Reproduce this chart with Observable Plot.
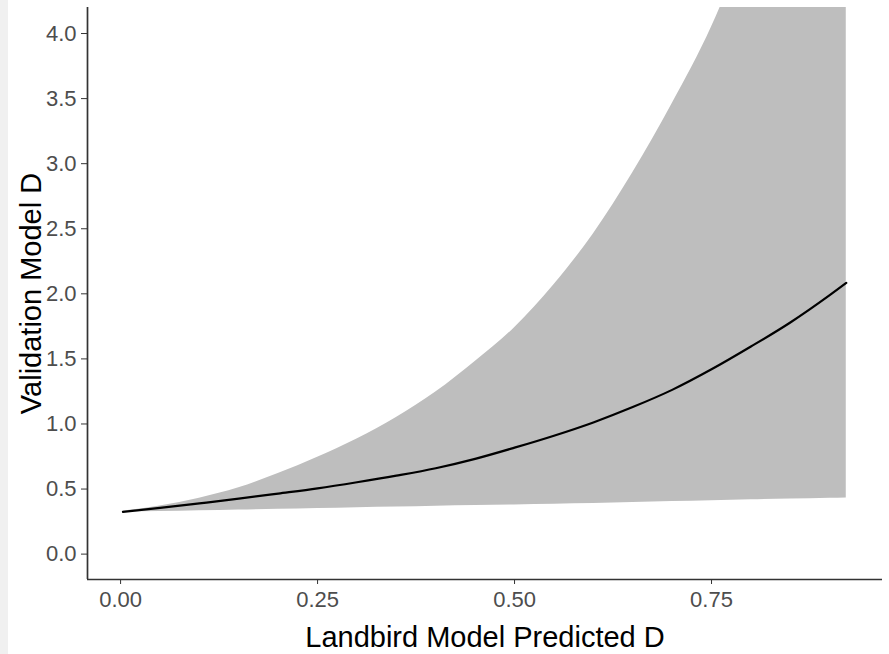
<!DOCTYPE html>
<html>
<head>
<meta charset="utf-8">
<script src="https://cdn.jsdelivr.net/npm/d3@7"></script>
<script src="https://cdn.jsdelivr.net/npm/@observablehq/plot@0.6"></script>
<style>
  html, body { margin: 0; padding: 0; background: #fff; }
  #strip { position: absolute; left: 0; top: 0; width: 8px; height: 654px; background: #f0f0f0; }
  #chart { position: absolute; left: 0; top: 0; }
</style>
</head>
<body>
<div id="strip"></div>
<div id="chart"></div>
<script>
const xs    = [0.003, 0.05, 0.1, 0.15, 0.2, 0.25, 0.3, 0.35, 0.4, 0.45, 0.5, 0.55, 0.6, 0.65, 0.7, 0.75, 0.8, 0.85, 0.9, 0.921];
const fit   = [0.325, 0.355, 0.39, 0.426, 0.465, 0.505, 0.552, 0.603, 0.66, 0.732, 0.818, 0.91, 1.012, 1.13, 1.262, 1.42, 1.595, 1.78, 1.99, 2.084];
const lower = [0.322, 0.327, 0.333, 0.339, 0.345, 0.351, 0.357, 0.362, 0.368, 0.373, 0.378, 0.383, 0.388, 0.396, 0.404, 0.411, 0.418, 0.424, 0.43, 0.432];
const upper = [0.33, 0.37, 0.43, 0.51, 0.62, 0.745, 0.885, 1.05, 1.245, 1.48, 1.74, 2.07, 2.46, 2.93, 3.46, 4.05, 4.8, 5.7, 6.7, 7.2];
const xTicks = [0, 0.25, 0.5, 0.75];
const yTicks = [0, 0.5, 1, 1.5, 2, 2.5, 3, 3.5, 4];
const xTitle = "Landbird Model Predicted D";
const yTitle = "Validation Model D";

const data = xs.map((x, i) => ({x, fit: fit[i], lo: lower[i], hi: upper[i]}));
const xDomain = [-0.042, 0.967];
const yDomain = [-0.195, 4.2];

const chart = Plot.plot({
  width: 889,
  height: 654,
  marginLeft: 87,
  marginRight: 7,
  marginTop: 7,
  marginBottom: 75,
  style: {fontFamily: "'Liberation Sans', Arial, sans-serif", background: "transparent"},
  x: {domain: xDomain},
  y: {domain: yDomain},
  marks: [
    Plot.areaY(data, {x: "x", y1: "lo", y2: "hi", fill: "#bebebe", curve: "monotone-x", clip: true}),
    Plot.line(data, {x: "x", y: "fit", stroke: "black", strokeWidth: 2.2, curve: "monotone-x", clip: true}),
    Plot.ruleX([xDomain[0]], {stroke: "#333", strokeWidth: 1.7}),
    Plot.ruleY([yDomain[0]], {stroke: "#333", strokeWidth: 1.7}),
    Plot.axisX({ticks: xTicks, tickFormat: d3.format(".2f"), tickSize: 5, tickPadding: 7, fontSize: 22, color: "#4d4d4d", stroke: "#333", label: null}),
    Plot.axisY({ticks: yTicks, tickFormat: d3.format(".1f"), tickSize: 6, tickPadding: 5, fontSize: 22, color: "#4d4d4d", stroke: "#333", label: null}),
    Plot.text([xTitle], {frameAnchor: "bottom", dy: 58, textAnchor: "middle", lineAnchor: "middle", fontSize: 29, fill: "black"}),
    Plot.text([yTitle], {frameAnchor: "left", dx: -56, rotate: -90, textAnchor: "middle", lineAnchor: "middle", fontSize: 29, fill: "black"})
  ]
});
document.getElementById("chart").appendChild(chart);
</script>
</body>
</html>
